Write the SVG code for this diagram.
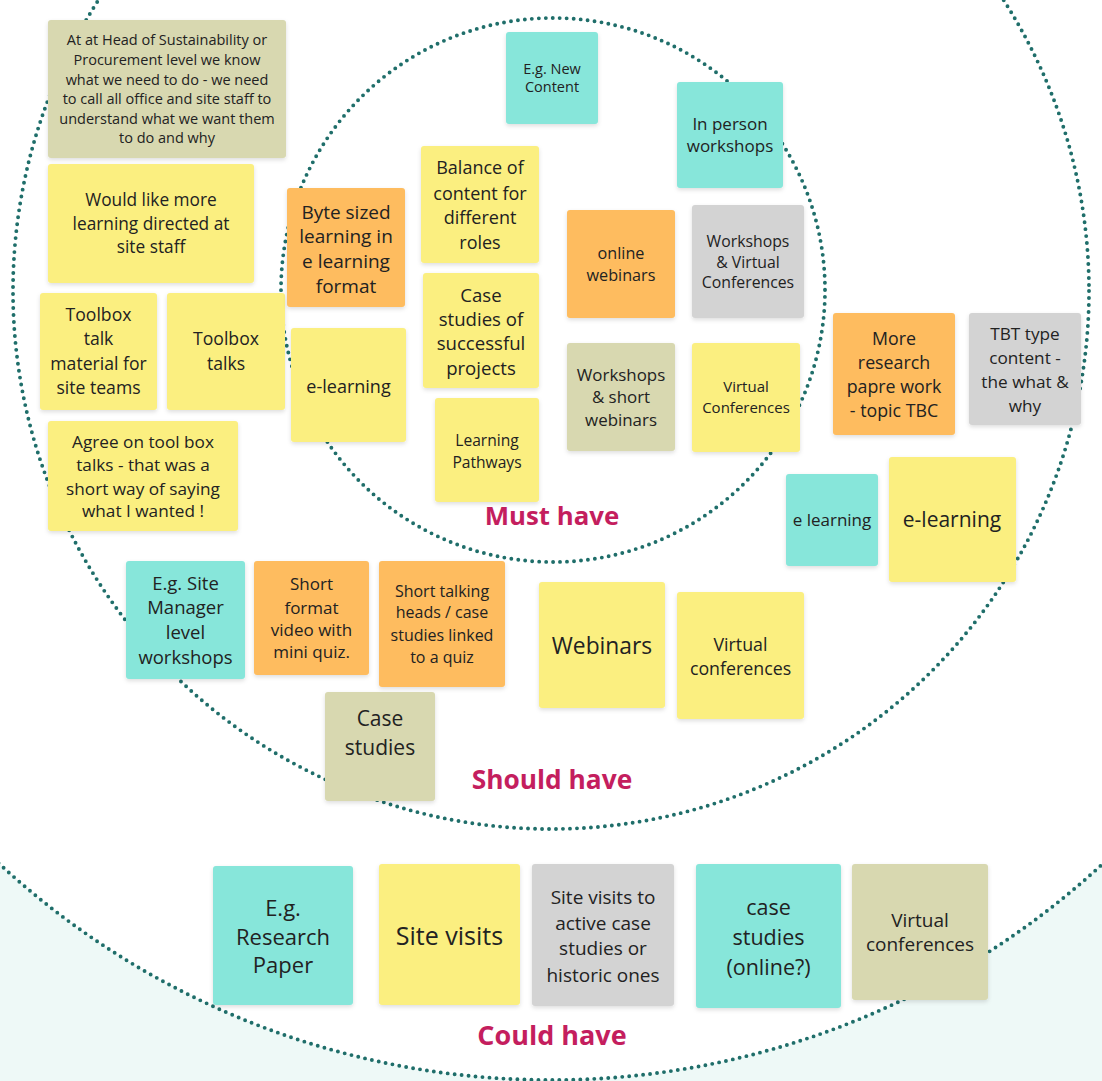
<svg xmlns="http://www.w3.org/2000/svg" width="1102" height="1081" viewBox="0 0 1102 1081">
<style>
.ring{fill:none;stroke:#1F6E6A;stroke-width:3.9;stroke-dasharray:0 7;stroke-linecap:round}
.n rect{filter:url(#sh)}
.y rect{fill:#FBEF80}
.o rect{fill:#FEBC5F}
.t rect{fill:#87E6DA}
.g rect{fill:#D3D3D3}
.k rect{fill:#D8D8B0}
text{font-family:"Open Sans","Liberation Sans",sans-serif;fill:#222;text-anchor:middle}
.lbl{font-weight:bold;fill:#C41E5E}
</style>
<defs>
<filter id="sh" x="-10%" y="-10%" width="120%" height="125%">
<feDropShadow dx="0" dy="2" stdDeviation="2" flood-color="#000" flood-opacity="0.13"/>
</filter>
</defs>
<rect width="1102" height="1081" fill="#EEF9F7"/>
<g id="rings">
<circle cx="551" cy="268" r="812" fill="#fff"/>
<circle class="ring" cx="551" cy="268" r="812"/>
<circle class="ring" cx="551" cy="291" r="538"/>
<circle class="ring" cx="553" cy="290" r="272"/>
</g>
<g id="labels">
<text class="lbl" x="552" y="525" font-size="25.8">Must have</text>
<text class="lbl" x="552" y="789" font-size="26.3">Should have</text>
<text class="lbl" x="552" y="1045" font-size="27">Could have</text>
</g>
<g id="n1" class="n k"><rect x="48" y="20" width="238" height="138" rx="3"/><text font-size="14.5"><tspan x="167" y="45">At at Head of Sustainability or</tspan><tspan x="167" y="65">Procurement level we know</tspan><tspan x="167" y="84.5">what we need to do - we need</tspan><tspan x="167" y="104">to call all office and site staff to</tspan><tspan x="167" y="123.5">understand what we want them</tspan><tspan x="167" y="143">to do and why</tspan></text></g>
<g id="n2" class="n y"><rect x="48" y="164" width="206" height="119" rx="3"/><text font-size="17.3"><tspan x="151" y="206">Would like more</tspan><tspan x="151" y="230">learning directed at</tspan><tspan x="151" y="253">site staff</tspan></text></g>
<g id="n3" class="n y"><rect x="40" y="293" width="117" height="117" rx="3"/><text font-size="17.6"><tspan x="98.5" y="321">Toolbox</tspan><tspan x="98.5" y="345">talk</tspan><tspan x="98.5" y="370">material for</tspan><tspan x="98.5" y="394">site teams</tspan></text></g>
<g id="n4" class="n y"><rect x="167" y="293" width="118" height="117" rx="3"/><text font-size="17.6"><tspan x="226" y="345">Toolbox</tspan><tspan x="226" y="370">talks</tspan></text></g>
<g id="n5" class="n o"><rect x="287" y="188" width="118" height="119" rx="3"/><text font-size="19"><tspan x="346" y="218.5">Byte sized</tspan><tspan x="346" y="242.5">learning in</tspan><tspan x="346" y="267.5">e learning</tspan><tspan x="346" y="292.5">format</tspan></text></g>
<g id="n6" class="n y"><rect x="291" y="328" width="115" height="114" rx="3"/><text font-size="18"><tspan x="348.5" y="392.5">e-learning</tspan></text></g>
<g id="n7" class="n y"><rect x="48" y="421" width="190" height="110" rx="3"/><text font-size="17.2"><tspan x="143" y="447.5">Agree on tool box</tspan><tspan x="143" y="470.5">talks - that was a</tspan><tspan x="143" y="494.5">short way of saying</tspan><tspan x="143" y="516.5">what I wanted !</tspan></text></g>
<g id="n8" class="n t"><rect x="506" y="32" width="92" height="92" rx="3"/><text font-size="14.5"><tspan x="552" y="74">E.g. New</tspan><tspan x="552" y="92">Content</tspan></text></g>
<g id="n9" class="n t"><rect x="677" y="82" width="106" height="106" rx="3"/><text font-size="17"><tspan x="730" y="130">In person</tspan><tspan x="730" y="152">workshops</tspan></text></g>
<g id="n10" class="n y"><rect x="421" y="146" width="118" height="117" rx="3"/><text font-size="18"><tspan x="480" y="173.5">Balance of</tspan><tspan x="480" y="199.5">content for</tspan><tspan x="480" y="223.5">different</tspan><tspan x="480" y="248.5">roles</tspan></text></g>
<g id="n11" class="n y"><rect x="423" y="273" width="116" height="115" rx="3"/><text font-size="18.6"><tspan x="481" y="301.5">Case</tspan><tspan x="481" y="325.5">studies of</tspan><tspan x="481" y="349.5">successful</tspan><tspan x="481" y="374.5">projects</tspan></text></g>
<g id="n12" class="n y"><rect x="435" y="398" width="104" height="104" rx="3"/><text font-size="15.6"><tspan x="487" y="446">Learning</tspan><tspan x="487" y="468">Pathways</tspan></text></g>
<g id="n13" class="n o"><rect x="567" y="210" width="108" height="108" rx="3"/><text font-size="16.2"><tspan x="621" y="259">online</tspan><tspan x="621" y="281">webinars</tspan></text></g>
<g id="n14" class="n g"><rect x="692" y="205" width="112" height="113" rx="3"/><text font-size="15.8"><tspan x="748" y="247">Workshops</tspan><tspan x="748" y="268">&amp; Virtual</tspan><tspan x="748" y="288">Conferences</tspan></text></g>
<g id="n15" class="n k"><rect x="567" y="343" width="108" height="108" rx="3"/><text font-size="16.9"><tspan x="621" y="380.5">Workshops</tspan><tspan x="621" y="402.5">&amp; short</tspan><tspan x="621" y="425.5">webinars</tspan></text></g>
<g id="n16" class="n y"><rect x="692" y="343" width="108" height="109" rx="3"/><text font-size="15"><tspan x="746" y="392">Virtual</tspan><tspan x="746" y="413">Conferences</tspan></text></g>
<g id="n17" class="n o"><rect x="833" y="313" width="122" height="122" rx="3"/><text font-size="17.8"><tspan x="894" y="344.5">More</tspan><tspan x="894" y="368.5">research</tspan><tspan x="894" y="392.5">papre work</tspan><tspan x="894" y="416.5">- topic TBC</tspan></text></g>
<g id="n18" class="n g"><rect x="969" y="313" width="112" height="112" rx="3"/><text font-size="17.2"><tspan x="1025" y="339.5">TBT type</tspan><tspan x="1025" y="363.5">content -</tspan><tspan x="1025" y="387.5">the what &amp;</tspan><tspan x="1025" y="411.5">why</tspan></text></g>
<g id="n19" class="n t"><rect x="786" y="474" width="92" height="92" rx="3"/><text font-size="17"><tspan x="832" y="526">e learning</tspan></text></g>
<g id="n20" class="n y"><rect x="889" y="457" width="127" height="125" rx="3"/><text font-size="21"><tspan x="952" y="526.5">e-learning</tspan></text></g>
<g id="n21" class="n t"><rect x="126" y="561" width="119" height="118" rx="3"/><text font-size="18.5"><tspan x="185.5" y="589.5">E.g. Site</tspan><tspan x="185.5" y="613.5">Manager</tspan><tspan x="185.5" y="638.5">level</tspan><tspan x="185.5" y="663.5">workshops</tspan></text></g>
<g id="n22" class="n o"><rect x="254" y="561" width="115" height="114" rx="3"/><text font-size="17"><tspan x="311.5" y="589.5">Short</tspan><tspan x="311.5" y="613.5">format</tspan><tspan x="311.5" y="635.5">video with</tspan><tspan x="311.5" y="657.5">mini quiz.</tspan></text></g>
<g id="n23" class="n o"><rect x="379" y="561" width="126" height="126" rx="3"/><text font-size="16"><tspan x="442" y="596.5">Short talking</tspan><tspan x="442" y="617.5">heads / case</tspan><tspan x="442" y="640.5">studies linked</tspan><tspan x="442" y="662.5">to a quiz</tspan></text></g>
<g id="n24" class="n k"><rect x="325" y="692" width="110" height="109" rx="3"/><text font-size="21"><tspan x="380" y="725.5">Case</tspan><tspan x="380" y="754.5">studies</tspan></text></g>
<g id="n25" class="n y"><rect x="539" y="582" width="126" height="126" rx="3"/><text font-size="22.8"><tspan x="602" y="654">Webinars</tspan></text></g>
<g id="n26" class="n y"><rect x="677" y="592" width="127" height="127" rx="3"/><text font-size="17.8"><tspan x="740.5" y="650.5">Virtual</tspan><tspan x="740.5" y="674.5">conferences</tspan></text></g>
<g id="n27" class="n t"><rect x="213" y="866" width="140" height="139" rx="3"/><text font-size="22"><tspan x="283" y="915.5">E.g.</tspan><tspan x="283" y="944.5">Research</tspan><tspan x="283" y="972.5">Paper</tspan></text></g>
<g id="n28" class="n y"><rect x="379" y="864" width="141" height="141" rx="3"/><text font-size="25"><tspan x="449.5" y="944.5">Site visits</tspan></text></g>
<g id="n29" class="n g"><rect x="532" y="864" width="142" height="142" rx="3"/><text font-size="19"><tspan x="603" y="903.5">Site visits to</tspan><tspan x="603" y="929.5">active case</tspan><tspan x="603" y="954.5">studies or</tspan><tspan x="603" y="981.5">historic ones</tspan></text></g>
<g id="n30" class="n t"><rect x="696" y="864" width="145" height="144" rx="3"/><text font-size="21.5"><tspan x="768.5" y="914.5">case</tspan><tspan x="768.5" y="944.5">studies</tspan><tspan x="768.5" y="974.5">(online?)</tspan></text></g>
<g id="n31" class="n k"><rect x="852" y="864" width="136" height="136" rx="3"/><text font-size="19"><tspan x="920" y="926.5">Virtual</tspan><tspan x="920" y="950.5">conferences</tspan></text></g>
</svg>
